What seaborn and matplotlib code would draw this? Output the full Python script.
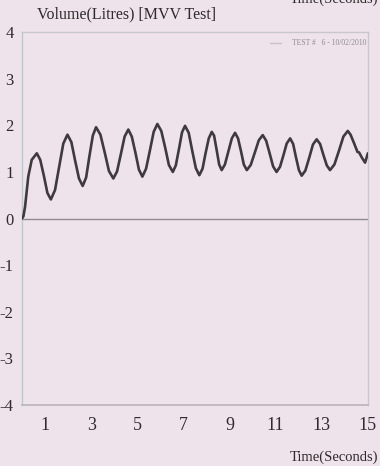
import matplotlib
matplotlib.use("Agg")
import matplotlib.pyplot as plt
import seaborn as sns
import pandas as pd

# Recorded volume trace, MVV test (time in s, volume in L)
time_s = [0.00, 0.06, 0.13, 0.27, 0.42, 0.64,
          0.79, 0.95, 1.10, 1.25,
          1.43, 1.61, 1.79, 1.97,
          2.14, 2.30, 2.47, 2.63,
          2.78, 2.92, 3.07, 3.21,
          3.40, 3.59, 3.77, 3.96,
          4.12, 4.29, 4.45, 4.61,
          4.76, 4.92, 5.07, 5.22,
          5.38, 5.55, 5.71, 5.87,
          6.04, 6.21, 6.37, 6.54,
          6.67, 6.81, 6.94, 7.07,
          7.23, 7.38, 7.54, 7.69,
          7.83, 7.96, 8.10, 8.23,
          8.33, 8.45, 8.55, 8.66,
          8.80, 8.95, 9.10, 9.24,
          9.37, 9.50, 9.62, 9.75,
          9.92, 10.10, 10.27, 10.44,
          10.59, 10.74, 10.89, 11.04,
          11.19, 11.34, 11.48, 11.63,
          11.76, 11.88, 12.01, 12.13,
          12.29, 12.46, 12.62, 12.78,
          12.93, 13.07, 13.22, 13.36,
          13.55, 13.75, 13.94, 14.13,
          14.25, 14.40, 14.55, 14.62, 14.75, 14.88, 15.00]
volume_l = [0.00, 0.05, 0.25, 0.90, 1.26, 1.40,
            1.26, 0.91, 0.55, 0.41,
            0.61, 1.11, 1.61, 1.80,
            1.64, 1.25, 0.86, 0.70,
            0.88, 1.33, 1.78, 1.96,
            1.80, 1.41, 1.02, 0.86,
            1.01, 1.39, 1.76, 1.91,
            1.76, 1.41, 1.05, 0.90,
            1.07, 1.47, 1.86, 2.03,
            1.88, 1.52, 1.15, 1.00,
            1.14, 1.50, 1.85, 1.99,
            1.84, 1.46, 1.08, 0.93,
            1.07, 1.40, 1.72, 1.86,
            1.78, 1.45, 1.16, 1.04,
            1.16, 1.44, 1.72, 1.84,
            1.72, 1.44, 1.16, 1.04,
            1.15, 1.42, 1.68, 1.79,
            1.67, 1.40, 1.12, 1.00,
            1.11, 1.36, 1.61, 1.72,
            1.60, 1.32, 1.04, 0.92,
            1.03, 1.31, 1.59, 1.70,
            1.60, 1.37, 1.14, 1.04,
            1.16, 1.46, 1.76, 1.88,
            1.80, 1.62, 1.43, 1.42, 1.30, 1.20, 1.40]

x_ticks = list(range(1, 16))
x_tick_labels = [str(v) if v % 2 == 1 else "" for v in x_ticks]
y_ticks = [4, 3, 2, 1, 0, -1, -2, -3, -4]
y_tick_labels = [str(v) for v in y_ticks]

paper = "#efe3eb"
ink = "#3e3a3d"
rule = "#b9b4bd"

sns.set_style("white")
plt.rcParams["font.family"] = ["Liberation Serif", "DejaVu Serif"]

fig = plt.figure(figsize=(3.8, 4.66), dpi=100, facecolor=paper)
ax = fig.add_axes([0.058, 0.131, 0.910, 0.800])
ax.set_facecolor(paper)

df = pd.DataFrame({"t": time_s, "v": volume_l})
ax.axhline(0, color="#8e8a90", lw=1.0, zorder=1)
sns.lineplot(data=df, x="t", y="v", sort=False, estimator=None,
             color=ink, lw=1.9, ax=ax, zorder=3)

ax.set_xlim(0, 15)
ax.set_ylim(-4, 4)
ax.set_xticks(x_ticks)
ax.set_xticklabels(x_tick_labels)
ax.set_yticks(y_ticks)
ax.set_yticklabels(y_tick_labels)
ax.set_xlabel("")
ax.set_ylabel("")

for side in ["left", "right", "top"]:
    ax.spines[side].set_color("#c9c6cc")
    ax.spines[side].set_linewidth(1.0)
ax.spines["left"].set_color("#b7c9cc")
ax.spines["bottom"].set_color(rule)
ax.spines["bottom"].set_linewidth(1.2)

ax.tick_params(axis="x", direction="inout", length=6, width=0.9,
               color=rule, labelsize=13, labelcolor="#2e2a2d", pad=6)
ax.tick_params(axis="y", direction="out", length=3, width=0.8,
               color="#c0bcc3", labelsize=12, labelcolor="#2e2a2d", pad=3)

fig.text(0.097, 0.952, "Volume(Litres) [MVV Test]", fontsize=11.5,
         color="#2e2a2d", ha="left", va="bottom")
fig.text(0.995, 0.004, "Time(Seconds)", fontsize=10.5, color="#2e2a2d",
         ha="right", va="bottom")
fig.text(0.995, 1.002, "Time(Seconds)", fontsize=10.5, color="#2e2a2d",
         ha="right", va="center")

fig.text(0.963, 0.907, "TEST #   6 - 10/02/2010", fontsize=5.5,
         color="#8f8a92", ha="right", va="center")
fig.lines.append(plt.Line2D([0.71, 0.74], [0.907, 0.907],
                            transform=fig.transFigure,
                            color="#c8c3ca", lw=1.0))

fig.savefig("out.png", dpi=100, facecolor=paper)
